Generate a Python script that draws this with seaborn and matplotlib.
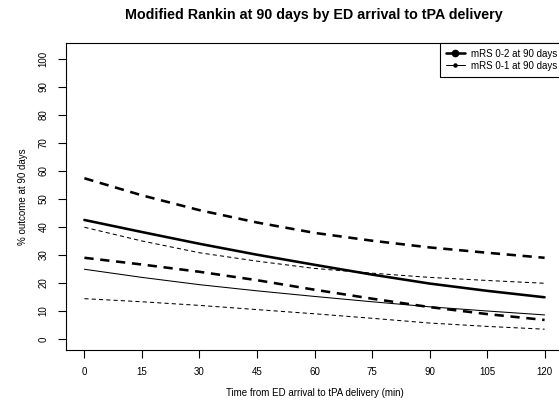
"""Modified Rankin at 90 days by ED arrival to tPA delivery (R base-graphics look)."""

import matplotlib

matplotlib.use("Agg")
import matplotlib.pyplot as plt
from matplotlib.lines import Line2D
import pandas as pd
import seaborn as sns

# minutes from ED arrival to tPA delivery
minutes = [0, 15, 30, 45, 60, 75, 90, 105, 120]

# mRS 0-2 at 90 days (estimate and confidence band)
mrs02_est = [42.5, 38.2, 34.0, 30.1, 26.5, 23.0, 19.8, 17.2, 14.9]
mrs02_hi = [57.4, 51.3, 46.0, 41.6, 37.9, 35.1, 32.7, 30.8, 29.0]
mrs02_lo = [29.0, 26.6, 24.0, 21.0, 17.6, 14.4, 11.4, 8.9, 6.8]

# mRS 0-1 at 90 days (estimate and confidence band)
mrs01_est = [24.9, 22.0, 19.4, 17.2, 15.2, 13.3, 11.5, 10.0, 8.6]
mrs01_hi = [39.9, 35.0, 30.8, 27.8, 25.2, 23.5, 22.0, 20.9, 19.9]
mrs01_lo = [14.4, 13.3, 12.0, 10.5, 9.0, 7.4, 5.7, 4.5, 3.5]

series = {
    "mRS 0-2 est": mrs02_est,
    "mRS 0-2 hi": mrs02_hi,
    "mRS 0-2 lo": mrs02_lo,
    "mRS 0-1 est": mrs01_est,
    "mRS 0-1 hi": mrs01_hi,
    "mRS 0-1 lo": mrs01_lo,
}
df = pd.DataFrame(
    [
        {"minutes": m, "pct": v, "series": name}
        for name, vals in series.items()
        for m, v in zip(minutes, vals)
    ]
)

sns.set_style("ticks")
plt.rcParams["font.family"] = ["Liberation Sans", "DejaVu Sans"]
plt.rcParams["text.color"] = "black"
plt.rcParams["axes.labelcolor"] = "black"
plt.rcParams["xtick.color"] = "black"
plt.rcParams["ytick.color"] = "black"

W, H = 559, 411
fig = plt.figure(figsize=(W / 100, H / 100), dpi=100)
ax = fig.add_axes([66 / W, (H - 350) / H, 497 / W, 307 / H])

thick, thin = 1.85, 0.75
styles = {
    "mRS 0-2 est": dict(lw=thick, ls="-"),
    "mRS 0-2 hi": dict(lw=thick, ls=(0, (3.6, 2.6))),
    "mRS 0-2 lo": dict(lw=thick, ls=(0, (3.6, 2.6))),
    "mRS 0-1 est": dict(lw=thin, ls="-"),
    "mRS 0-1 hi": dict(lw=thin, ls=(0, (4, 3))),
    "mRS 0-1 lo": dict(lw=thin, ls=(0, (4, 3))),
}
for name, st in styles.items():
    sub = df[df["series"] == name]
    sns.lineplot(
        data=sub, x="minutes", y="pct", ax=ax, color="black",
        linewidth=st["lw"], linestyle=st["ls"], legend=False, errorbar=None,
    )

ax.set_xlim(-4.8, 124.8)
ax.set_ylim(-3.93, 105.7)
ax.set_xticks(range(0, 121, 15))
ax.set_yticks(range(0, 101, 10))
ax.tick_params(axis="both", length=5.5, width=0.8, color="black",
               labelcolor="black", labelsize=7, pad=7)
for lbl in ax.get_yticklabels():
    lbl.set_rotation(90)
    lbl.set_va("center")
for sp in ax.spines.values():
    sp.set_visible(True)
    sp.set_linewidth(0.8)
    sp.set_color("black")

ax.set_xlabel("Time from ED arrival to tPA delivery (min)", fontsize=7, labelpad=8)
ax.set_ylabel("% outcome at 90 days", fontsize=7, labelpad=8)
fig.text(314 / W, 1 - 15 / H, "Modified Rankin at 90 days by ED arrival to tPA delivery",
         ha="center", va="center", fontsize=10.3, fontweight="bold")

handles = [
    Line2D([], [], color="black", lw=thick, marker="o", markersize=4.5),
    Line2D([], [], color="black", lw=thin, marker="o", markersize=2.2),
]
leg = ax.legend(
    handles, ["mRS 0-2 at 90 days", "mRS 0-1 at 90 days"],
    loc="upper right", borderaxespad=0, fancybox=False, framealpha=1,
    edgecolor="black", fontsize=7, handlelength=2.0, handletextpad=0.6,
    borderpad=0.6, labelspacing=0.2,
)
leg.get_frame().set_linewidth(0.8)

fig.savefig("out.png", dpi=100)
